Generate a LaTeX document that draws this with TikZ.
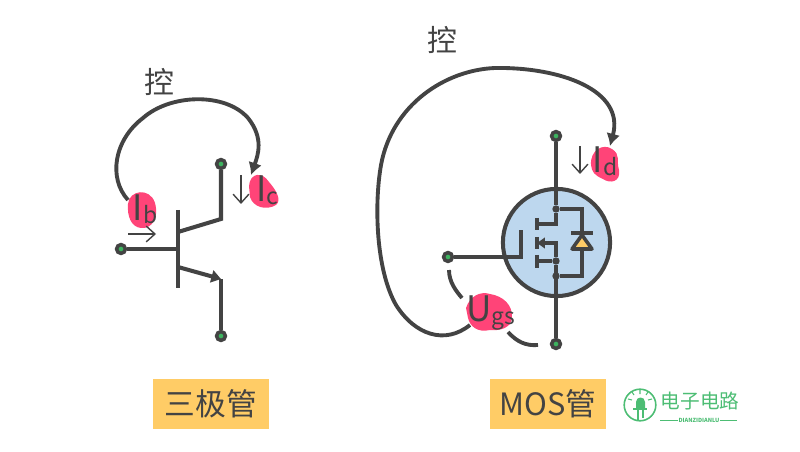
\documentclass[tikz,border=0pt]{standalone}
\usepackage{fontspec}
\setmainfont{Noto Sans CJK SC}
\usetikzlibrary{arrows.meta}
\definecolor{ink}{HTML}{434343}
\definecolor{termgreen}{HTML}{3DB35F}
\definecolor{blobpink}{HTML}{FF4478}
\definecolor{boxyellow}{HTML}{FFCC66}
\definecolor{mosblue}{HTML}{BDD7EE}
\definecolor{logogreen}{HTML}{4DBD74}
\tikzset{
wire/.style={draw=ink,line width=2.3pt},
ctrl/.style={draw=ink,line width=2.2pt},
flow/.style={draw=ink,line width=0.8pt,-{Straight Barb[length=5pt,width=9pt,line width=0.8pt]}},
term/.style={circle,draw=ink,fill=termgreen,line width=2pt,inner sep=0pt,minimum size=5pt},
joint/.style={circle,fill=ink,inner sep=0pt,minimum size=4.2pt},
blob/.style={fill=blobpink,draw=none},
cur/.style={text=ink,inner sep=0pt,font=\fontsize{20pt}{20pt}\selectfont},
tag/.style={fill=boxyellow,text=ink,minimum width=66pt,minimum height=28.5pt,inner sep=0pt,font=\fontsize{17.5pt}{20pt}\selectfont},
ctrltext/.style={text=ink,inner sep=0pt,font=\fontsize{17pt}{18pt}\selectfont},
bigtip/.style={-{Latex[length=7pt,width=8pt]}}
}
\newcommand{\subcur}[1]{\raisebox{-1.5pt}{\fontsize{13pt}{14pt}\selectfont #1}}
\begin{document}
\begin{tikzpicture}[x=0.02cm,y=-0.02cm]
\useasboundingbox(0,0)rectangle(800,452);

\fill[blob](128,204)..controls(129,190)and(150,187)..(155,203)..controls(159,218)and(152,229)..(141,228)..controls(131,227)and(127,216)..(128,204)--cycle;
\fill[blob](249,186)..controls(250,173)and(262,171)..(269,182)..controls(276,190)and(282,200)..(276,205)..controls(266,211)and(253,207)..(250,197)--cycle;
\fill[blob](591,165)..controls(590,150)and(603,143)..(612,149)..controls(621,155)and(616,160)..(619,170)..controls(621,182)and(610,184)..(603,179)..controls(594,175)and(592,172)..(591,165)--cycle;
\fill[blob](466,308)..controls(470,296)and(480,291)..(490,294)..controls(503,296)and(513,305)..(512,318)..controls(511,328)and(500,331)..(490,330)..controls(477,333)and(470,326)..(468,318)--cycle;

\node[cur](Ib)at(145,209){I\subcur{b}};
\node[cur](Ic)at(267,190){I\subcur{c}};
\node[cur](Id)at(605,161){I\subcur{d}};
\node[cur](Ugs)at(491,313){U\subcur{gs}};

\node[term](bjtB)at(121,249){};
\node[term](bjtC)at(221,164){};
\node[term](bjtE)at(221,336){};
\coordinate(bjtCk)at(221,219);
\coordinate(bjtEk)at(221,279);
\coordinate(barT)at(178,210);
\coordinate(barB)at(178,288);
\coordinate(barM)at(178,249);
\coordinate(barC)at(178,232);
\coordinate(barE)at(178,267);
\draw[wire](barT)--(barB);
\draw[wire](bjtB)--(barM);
\draw[wire](bjtC)--(bjtCk)--(barC);
\draw[wire](bjtE)--(bjtEk);
\draw[wire,-{Triangle[length=5.5pt,width=7pt]}](barE)--(bjtEk);

\coordinate(ibA)at(128,200);
\coordinate(ibB)at(251,175);
\draw[ctrl,bigtip](ibA)..controls(108,178)and(114,140)..(143,118)..controls(170,94)and(225,92)..(248,118)..controls(264,138)and(258,155)..(ibB);
\coordinate(ibS)at(128,234);
\coordinate(ibT)at(156,234);
\coordinate(icS)at(241,175);
\coordinate(icT)at(241,204);
\coordinate(idS)at(580,146);
\coordinate(idT)at(580,174);
\draw[flow](ibS)--(ibT);
\draw[flow](icS)--(icT);
\draw[flow](idS)--(idT);
\node[ctrltext](ctrlA)at(159,82){控};

\node[circle,draw=ink,fill=mosblue,line width=2.3pt,minimum size=61pt,inner sep=0pt](mos)at(556.5,242.5){};
\node[term](mosD)at(556,136){};
\node[term](mosS)at(556,344){};
\node[term](mosG)at(448,257){};
\node[joint](jTop)at(556,209){};
\node[joint](jMid)at(556,261){};
\node[joint](jBot)at(556,276){};
\coordinate(gTop)at(521,230);
\coordinate(gKnee)at(521,257);
\draw[wire](mosG)--(gKnee)--(gTop);
\draw[wire](mosD)--(jTop)--(556,224)--(537,224);
\draw[wire](jMid)--(mosS);
\draw[wire](jMid)--(537,261);
\draw[wire](537,218)--(537,230);
\draw[wire](537,237)--(537,249);
\draw[wire](537,255)--(537,268);
\draw[wire,-{Triangle[length=4.5pt,width=6pt]}](jMid)--(556,243)--(537,243);
\draw[wire](jTop)--(582,209)--(582,276)--(jBot);
\draw[draw=ink,line width=2pt,fill=boxyellow,line join=round](582,235)--(592,249)--(572,249)--cycle;
\draw[wire](571,233)--(593,233);

\coordinate(idA)at(470,325);
\coordinate(idB)at(610,146);
\draw[ctrl,bigtip](idA)..controls(445,345)and(415,335)..(396,305)..controls(376,270)and(374,205)..(381,165)..controls(392,105)and(445,70)..(495,68)..controls(560,67)and(625,90)..(idB);
\node[ctrltext](ctrlB)at(442,40){控};
\coordinate(ugsA)at(449,270);
\coordinate(ugsB)at(462,298);
\coordinate(ugsC)at(508,332);
\coordinate(ugsD)at(538,345);
\draw[ctrl](ugsA)..controls(449,282)and(456,291)..(ugsB);
\draw[ctrl](ugsC)..controls(517,342)and(526,346)..(ugsD);

\node[tag](tagB)at(211,404){三极管};
\node[tag](tagM)at(548,404){MOS管};

\node[circle,draw=logogreen,line width=0.9pt,minimum size=18pt,inner sep=0pt](logo)at(640,405){};
\fill[logogreen](636,409)--(636,402)..controls(636,396)and(645,396)..(645,402)--(645,409)--cycle;
\draw[logogreen,line width=0.8pt](633,409)--(647,409);
\draw[logogreen,line width=0.8pt](638,409)--(638,421)(643,409)--(643,418);
\draw[logogreen,line width=0.6pt](640,390)--(640,394)(632,392)--(634,395)(648,392)--(646,395)(628,399)--(632,400)(652,399)--(648,400);
\node[text=logogreen,inner sep=0pt,font=\fontsize{11.2pt}{12pt}\selectfont](logoT)at(700,401){电子电路};
\node[text=logogreen,inner sep=0pt,font=\fontsize{3.2pt}{4pt}\selectfont\bfseries](logoS)at(699,420){DIANZIDIANLU};
\coordinate(logoL)at(660,420);
\coordinate(logoR)at(737,420);
\draw[logogreen,line width=0.5pt](logoL)--(logoS.west);
\draw[logogreen,line width=0.5pt](logoS.east)--(logoR);
\end{tikzpicture}
\end{document}
